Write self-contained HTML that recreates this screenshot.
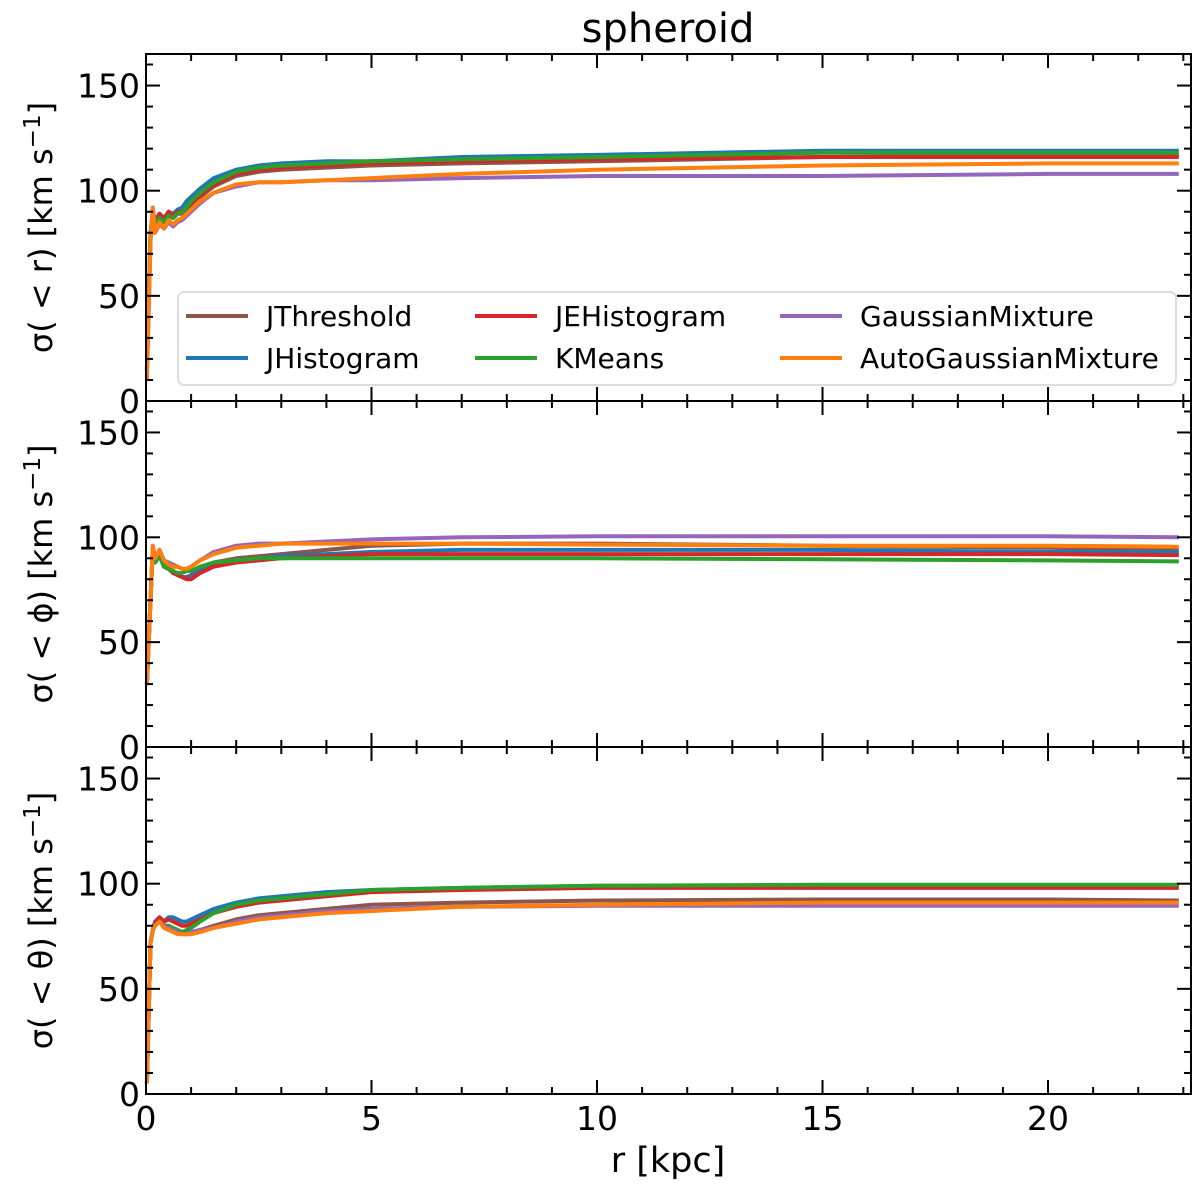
<!DOCTYPE html>
<html><head><meta charset="utf-8"><style>
body{margin:0;background:#fff}
svg{display:block;font-family:"DejaVu Sans","Liberation Sans",sans-serif}
</style></head><body>
<svg id="chart" width="1200" height="1190" viewBox="0 0 1200 1190" xmlns="http://www.w3.org/2000/svg">
<text x="668" y="42" font-size="40" text-anchor="middle">spheroid</text>
<text x="668" y="1172" font-size="35" text-anchor="middle">r [kpc]</text>
</svg>
<script>
const seriesNames=["JThreshold","JHistogram","JEHistogram","KMeans","GaussianMixture","AutoGaussianMixture"];
const seriesColors=["#8c564b","#1f77b4","#d62728","#2ca02c","#9467bd","#ff7f0e"];
const xVals=[0.02,0.1,0.15,0.2,0.3,0.4,0.5,0.6,0.7,0.8,0.9,1.0,1.2,1.5,2,2.5,3,4,5,7,10,15,20,22.9];
// panel 1: sigma(<r)
const rThreshold=[15,78,90,84,87,85,88,87,89,89,91,93,97,102,107,109,110,111,112,113,114,116,117,117];
const rHistogram=[15,80,90,86,89,87,90,89,91,92,95,97,101,106,110,112,113,114,114,116,117,119,119,119];
const rEHistogram=[15,79,90,85,89,86,90,88,90,90,92,94,98,103,108,110,111,112,113,114,115,116,116,116];
const rKMeans=[15,79,90,84,87,85,88,87,89,90,92,95,99,104,109,111,112,113,114,115,116,118,118,118];
const rGauss=[12,76,92,80,84,82,85,83,85,86,88,90,94,99,102,104,104,105,105,106,107,107,108,108];
const rAuto=[10,76,92,80,85,82,86,84,86,87,89,91,95,99,103,104,104,105,106,108,110,112,113,113];
// panel 2: sigma(<phi)
const pThreshold=[30,70,95,88,92,87,86,84,82,81,81,82,85,88,90,91,92,94,96,97,97,96,95,94];
const pHistogram=[30,70,95,88,92,86,85,83,82,81,81,81,84,87,89,90,91,92,93,94,94,94,93,93];
const pEHistogram=[30,70,95,88,92,86,85,83,82,81,80,80,83,86,88,89,90,91,92,92,92,92,92,91.5];
const pKMeans=[30,70,95,88,91,86,85,84,83,83,84,84,86,88,89,90,90,90,90,90,90,89.5,89,88.5];
const pGauss=[30,70,96,90,94,89,88,87,86,85,85,86,89,93,96,97,97,98,99,100,100.5,100.5,100.5,100];
const pAuto=[30,70,96,90,94,89,87,86,86,85,85,86,89,92,95,96,97,97,97,97,96.5,96,96,95.5];
// panel 3: sigma(<theta)
const tThreshold=[5,72,78,80,83,80,80,79,78,77,77,77,78,80,83,85,86,88,90,91,92,92.5,92.5,92];
const tHistogram=[5,72,78,82,84,82,84,84,83,82,82,83,85,88,91,93,94,96,97,98,99,99,99,99];
const tEHistogram=[5,72,78,81,84,82,83,82,81,80,80,81,83,86,89,91,92,94,96,97,98,98,98,98];
const tKMeans=[5,72,78,80,82,80,80,79,78,77,78,79,82,86,90,92,93,95,97,98,99,99.5,99.5,99.5];
const tGauss=[5,72,78,80,82,80,79,78,77,76,76,77,78,79,82,84,85,87,88,89,89.5,89.5,89.5,89.5];
const tAuto=[5,72,78,80,82,79,78,77,76,76,76,76,77,79,81,83,84,86,87,89,90,91,91,91];
const yTicks=[0,50,100,150];
const xTicks=[0,5,10,15,20];

const panels=[
 {name:"r",label:"r",top:54,bot:401,data:[rThreshold,rHistogram,rEHistogram,rKMeans,rGauss,rAuto]},
 {name:"phi",label:"ϕ",top:401,bot:747,data:[pThreshold,pHistogram,pEHistogram,pKMeans,pGauss,pAuto]},
 {name:"theta",label:"θ",top:747,bot:1094,data:[tThreshold,tHistogram,tEHistogram,tKMeans,tGauss,tAuto]}
];
const L=146,R=1191,XMAX=23.17,YMAX=165;
const svg=document.getElementById('chart');
const NS="http://www.w3.org/2000/svg";
function mk(tag,attrs,parent){const e=document.createElementNS(NS,tag);for(const k in attrs)e.setAttribute(k,attrs[k]);(parent||svg).appendChild(e);return e;}
const xs=v=>L+(v/XMAX)*(R-L);
panels.forEach((p,pi)=>{
 const ys=v=>p.bot-(v/YMAX)*(p.bot-p.top);
 const g=mk('g',{});
 
 
 p.data.forEach((arr,si)=>{
  const d=arr.map((v,i)=>(i?'L':'M')+xs(xVals[i]).toFixed(1)+','+ys(v).toFixed(1)).join('');
  const path=mk('path',{d:d,fill:'none',stroke:seriesColors[si],'stroke-width':4,'stroke-linejoin':'round'},g);
  
  
 });
 const fr=mk('rect',{x:L,y:p.top,width:R-L,height:p.bot-p.top,fill:'none',stroke:'#000','stroke-width':2},g);
 
 
 for(let v=0;v<=160;v+=10){
  const y=ys(v),len=v%50===0?14:7;
  mk('line',{x1:L,x2:L+len,y1:y,y2:y,stroke:'#000','stroke-width':2},g);
  mk('line',{x1:R,x2:R-len,y1:y,y2:y,stroke:'#000','stroke-width':2},g);
 }
 yTicks.forEach(v=>{
  const t=mk('text',{x:L-6,y:ys(v)+12,'font-size':33,'text-anchor':'end'},g);
  t.textContent=v;
  
  
 });
 for(let v=0;v<=23;v+=1){
  const x=xs(v),len=v%5===0?14:7;
  mk('line',{x1:x,x2:x,y1:p.bot,y2:p.bot-len,stroke:'#000','stroke-width':2},g);
  mk('line',{x1:x,x2:x,y1:p.top,y2:p.top+len,stroke:'#000','stroke-width':2},g);
 }
 const cy=(p.top+p.bot)/2;
 const yl=mk('text',{x:0,y:0,'font-size':32,'text-anchor':'middle',transform:`translate(52,${cy}) rotate(-90)`},g);
 
 
 yl.appendChild(document.createTextNode('σ( < '+p.label+') [km s'));
 const sup=mk('tspan',{dy:-12,'font-size':23},yl);sup.textContent='−1';
 const cl=mk('tspan',{dy:12},yl);cl.textContent=']';
});
xTicks.forEach(v=>{
 const t=mk('text',{x:xs(v),y:1130,'font-size':33,'text-anchor':'middle'});
 t.textContent=v;
 
 
});
const lg=mk('g',{});


mk('rect',{x:178,y:292,width:998,height:93,rx:6,fill:'#fff','fill-opacity':0.85,stroke:'#ddd','stroke-width':2},lg);
const colX=[186,475,780],rowY=[316,358];
seriesNames.forEach((n,i)=>{
 const c=Math.floor(i/2),r=i%2;
 const e=mk('g',{},lg);
 
 
 mk('line',{x1:colX[c],x2:colX[c]+62,y1:rowY[r],y2:rowY[r],stroke:seriesColors[i],'stroke-width':4},e);
 const t=mk('text',{x:colX[c]+80,y:rowY[r]+10,'font-size':28},e);
 t.textContent=n;
});
</script>
</body></html>
